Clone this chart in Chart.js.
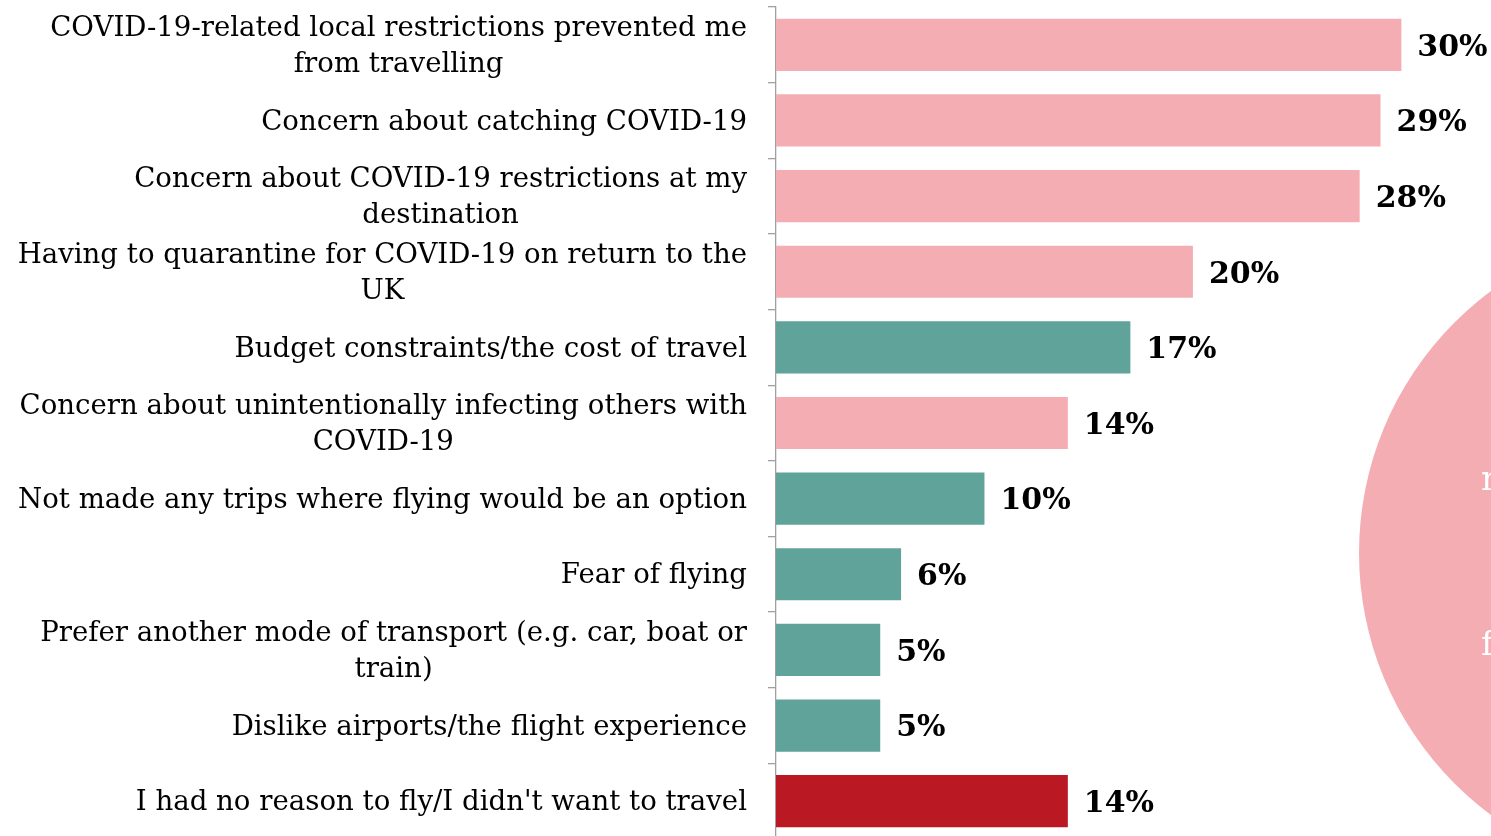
<!DOCTYPE html>
<html>
<head>
<meta charset="utf-8">
<script src="https://cdn.jsdelivr.net/npm/chart.js@4.4.1/dist/chart.umd.min.js"></script>
<style>
  html, body { margin: 0; padding: 0; background: #fff; overflow: hidden; }
  #wrap { position: relative; width: 1491px; height: 846px; }
</style>
</head>
<body>
<div id="wrap"><canvas id="reasonsChart"></canvas></div>
<script>
// reasons for not flying (labels as shown, line-broken like the original)
const reasons = [
    ['COVID-19-related local restrictions prevented me', 'from travelling'],
    'Concern about catching COVID-19',
    ['Concern about COVID-19 restrictions at my', 'destination'],
    ['Having to quarantine for COVID-19 on return to the', 'UK'],
    'Budget constraints/the cost of travel',
    ['Concern about unintentionally infecting others with', 'COVID-19'],
    'Not made any trips where flying would be an option',
    'Fear of flying',
    ['Prefer another mode of transport (e.g. car, boat or', 'train)'],
    'Dislike airports/the flight experience',
    "I had no reason to fly/I didn't want to travel"
];
const shares = [30, 29, 28, 20, 17, 14, 10, 6, 5, 5, 14];
// covid = pink, other = teal, no reason = red
const groups = ['covid', 'covid', 'covid', 'covid', 'other', 'covid', 'other', 'other', 'other', 'other', 'none'];

const groupColours = { covid: '#F4AEB3', other: '#5FA39A', none: '#BA1823' };
const serif = "Georgia, 'DejaVu Serif', serif";

const ctx = document.getElementById('reasonsChart').getContext('2d');

// category labels: block right-aligned at the axis, lines centred inside the block
const categoryLabels = {
    id: 'categoryLabels',
    afterDraw(chart) {
        const c = chart.ctx;
        const yScale = chart.scales.y;
        const right = yScale.right - 29;
        const lh = 36;
        c.save();
        c.font = "27.6px " + serif;
        c.fillStyle = '#000';
        c.textAlign = 'center';
        c.textBaseline = 'middle';
        reasons.forEach((lab, i) => {
            const lines = Array.isArray(lab) ? lab : [lab];
            const w = Math.max(...lines.map(l => c.measureText(l).width));
            const cx = right - w / 2;
            const y0 = yScale.getPixelForTick(i) - (lines.length - 1) * lh / 2 + 2;
            lines.forEach((l, k) => c.fillText(l, cx, y0 + k * lh));
        });
        c.restore();
    }
};

// percent labels at the end of each bar
const valueLabels = {
    id: 'valueLabels',
    afterDatasetsDraw(chart) {
        const c = chart.ctx;
        const meta = chart.getDatasetMeta(0);
        c.save();
        c.font = "bold 30px " + serif;
        c.fillStyle = '#000';
        c.textBaseline = 'middle';
        meta.data.forEach((bar, i) => {
            c.fillText(shares[i] + '%', bar.x + 16, bar.y + 3);
        });
        c.restore();
    }
};

// the pink bubble cut off at the right edge of the slide
const bubble = {
    id: 'bubble',
    beforeDatasetsDraw(chart) {
        const c = chart.ctx;
        c.save();
        c.fillStyle = '#F4AEB3';
        c.beginPath();
        c.arc(1685, 553, 326, 0, Math.PI * 2);
        c.fill();
        c.fillStyle = '#fff';
        c.font = "34px " + serif;
        c.textBaseline = 'alphabetic';
        c.fillText('n', 1481, 490);
        c.fillText('f', 1481, 655);
        c.restore();
    }
};

new Chart(ctx, {
    type: 'bar',
    data: {
        labels: reasons,
        datasets: [{
            data: shares,
            backgroundColor: groups.map(g => groupColours[g]),
            borderWidth: 0,
            barPercentage: 0.69,
            categoryPercentage: 1
        }]
    },
    options: {
        indexAxis: 'y',
        responsive: true,
        maintainAspectRatio: false,
        animation: false,
        layout: { padding: { top: 7, bottom: 7, left: 0, right: 0 } },
        scales: {
            x: {
                display: false,
                min: 0,
                max: 34.3
            },
            y: {
                afterFit(scale) {
                    scale.width = 776;
                    scale.paddingTop = 0;
                    scale.paddingBottom = 0;
                },
                border: { display: true, color: '#A0A0A0', width: 1.3 },
                grid: {
                    drawOnChartArea: false,
                    offset: true,
                    tickLength: 8,
                    color: '#A0A0A0',
                    lineWidth: 1.3
                },
                ticks: {
                    color: 'rgba(0,0,0,0)',
                    padding: 21,
                    font: { family: serif, size: 28, lineHeight: 1.29 }
                }
            }
        },
        plugins: {
            legend: { display: false },
            tooltip: { enabled: false }
        }
    },
    plugins: [bubble, valueLabels, categoryLabels]
});
</script>
</body>
</html>
